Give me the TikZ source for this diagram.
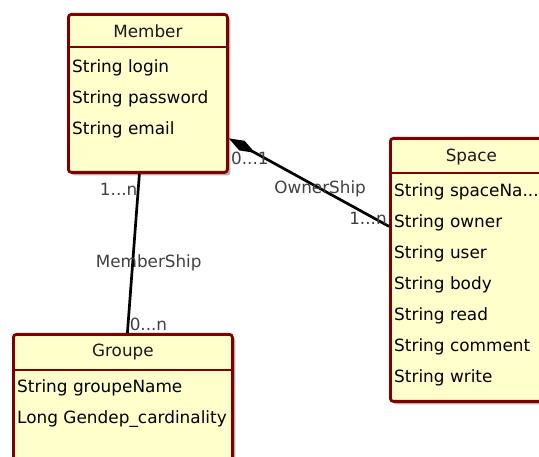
\documentclass[tikz,border=0pt]{standalone}
\usepackage{fontspec}
\newfontfamily\umlfont{DejaVu Sans}
\usetikzlibrary{arrows.meta, positioning, calc, shadows}
\definecolor{classfill}{RGB}{255,255,204}
\definecolor{classline}{RGB}{128,0,0}
\newcommand\cutdots{...}

\begin{document}
\begin{tikzpicture}[
    x=1pt, y=1pt,
    classbox/.style={rectangle, draw=classline, line width=2.8pt, fill=classfill, rounded corners=3pt, anchor=north west, drop shadow={shadow xshift=3pt, shadow yshift=-3pt, fill=black!30, opacity=1}},
    classname/.style={font=\umlfont\fontsize{16.8}{20}\selectfont, text=black!90, inner sep=1pt},
    attr/.style={font=\umlfont\fontsize{16.9}{20}\selectfont, text=black, anchor=west, inner sep=1pt},
    mult/.style={font=\umlfont\fontsize{16.8}{20}\selectfont, text=black!75, inner sep=1pt},
    divider/.style={draw=classline, line width=2.8pt},
    link/.style={draw=black, line width=2.7pt}
  ]
  \useasboundingbox (0,0) rectangle (539,457);
  \clip (0,0) rectangle (539,457);

  % Classes
  \node[classbox, minimum width=159pt, minimum height=158pt] (member) at (67,444) {};
  \node[classbox, minimum width=162pt, minimum height=263pt] (space) at (389,320) {};
  \node[classbox, minimum width=219pt, minimum height=150pt] (groupe) at (12,124) {};

  \node[classname] (member-name) at ($(member.north)+(0,-18.5)$) {Member};
  \node[classname] (space-name) at ($(space.north)+(0,-20)$) {Space};
  \node[classname] (groupe-name) at ($(groupe.north)+(0,-19.5)$) {Groupe};

  \draw[divider] ($(member.north west)+(0,-34)$) -- ($(member.north east)+(0,-34)$);
  \draw[divider] ($(space.north west)+(0,-36)$) -- ($(space.north east)+(0,-36)$);
  \draw[divider] ($(groupe.north west)+(0,-37)$) -- ($(groupe.north east)+(0,-37)$);

  % Attributes
  \foreach \a [count=\i] in {String login, String password, String email}
    \node[attr] (member-a\i) at ($(member.north west)+(4,-24-31*\i)$) {\a};
  \foreach \a [count=\i] in {String spaceNa\cutdots, String owner, String user, String body, String read, String comment, String write}
    \node[attr] (space-a\i) at ($(space.north west)+(4,-24-31*\i)$) {\a};
  \foreach \a [count=\i] in {String groupeName, Long Gendep\_cardinality}
    \node[attr] (groupe-a\i) at ($(groupe.north west)+(4,-24-31*\i)$) {\a};

  % Associations
  \draw[link] ([xshift=-8.5pt]member.south)
    -- node[mult, pos=0.1, anchor=east, xshift=1.5pt] (membership-from) {1...n}
       node[mult, pos=0.56, xshift=16pt] (membership) {MemberShip}
       node[mult, pos=1, anchor=south west] (membership-to) {0...n}
    ([xshift=4.5pt]groupe.north);
  \draw[link, {Diamond[length=30pt, width=11pt]}-] ([yshift=-45pt]member.east)
    -- node[mult, pos=0, anchor=north west, yshift=-11pt] (ownership-from) {0...1}
       node[mult, pos=0.57] (ownership) {OwnerShip}
       node[mult, pos=1, anchor=south east] (ownership-to) {1...n}
    ([yshift=43.5pt]space.west);
\end{tikzpicture}
\end{document}
